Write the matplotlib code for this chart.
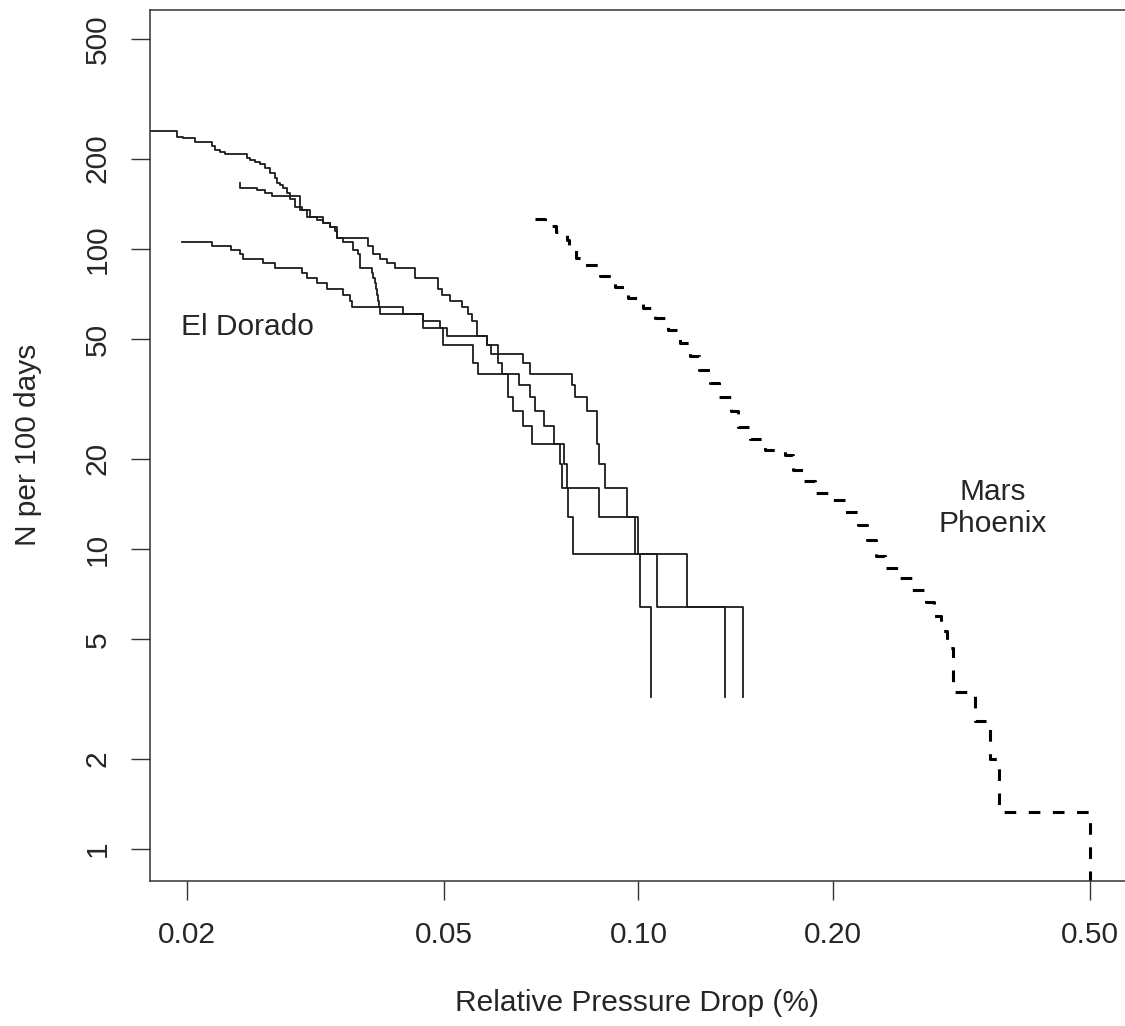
import matplotlib
matplotlib.use("Agg")
import matplotlib.pyplot as plt

plt.rcParams['font.family'] = ['Liberation Sans', 'DejaVu Sans']

# ---------------- data ----------------
# El Dorado, curve A (highest start)
ed_a_x = [0.01691, 0.01928, 0.01974, 0.02058, 0.02184, 0.02210, 0.02250, 0.02290,
          0.02474, 0.02503, 0.02548, 0.02594, 0.02641, 0.02688, 0.02737, 0.02753,
          0.02786, 0.02819, 0.02853, 0.02887, 0.02992, 0.03100, 0.03175, 0.03251,
          0.03329, 0.03410, 0.03816, 0.03885, 0.03979, 0.04075, 0.04197, 0.04508,
          0.04898, 0.04958, 0.05107, 0.05324, 0.05451, 0.05518, 0.05629, 0.05820,
          0.06066, 0.06631, 0.06791, 0.07880, 0.07973, 0.08313, 0.08633, 0.08695,
          0.08873, 0.09586, 0.09990, 0.11875, 0.14526]
ed_a_y = [246.4, 236.8, 233.6, 227.2, 220.8, 214.4, 211.2, 208.0, 201.6, 198.4,
          195.2, 192.0, 185.6, 179.2, 172.8, 166.4, 163.2, 160.0, 153.6, 150.4,
          134.4, 128.0, 124.8, 121.6, 118.4, 108.8, 102.4, 96.0, 92.8, 89.6,
          86.4, 80.0, 73.6, 70.4, 67.2, 64.0, 60.8, 57.6, 51.2, 48.0,
          44.8, 41.6, 38.4, 35.2, 32.0, 28.8, 22.4, 19.2, 16.0, 12.8,
          9.6, 6.4, 3.2]

# El Dorado, curve B (middle start)
ed_b_x = [0.02416, 0.02416, 0.02567, 0.02641, 0.02705, 0.02887, 0.02939, 0.03010,
          0.03064, 0.03251, 0.03329, 0.03389, 0.03410, 0.03491, 0.03618, 0.03683,
          0.03705, 0.03867, 0.03885, 0.03908, 0.03922, 0.03932, 0.03955, 0.03965,
          0.03979, 0.04643, 0.05058, 0.05820, 0.05904, 0.06066, 0.06140, 0.06537,
          0.06791, 0.06913, 0.07147, 0.07398, 0.07667, 0.07758, 0.08695, 0.09874,
          0.10668, 0.13611]
ed_b_y = [166.4, 160.0, 156.8, 153.6, 150.4, 147.2, 137.6, 134.4, 128.0, 121.6,
          118.4, 115.2, 108.8, 105.6, 99.2, 96.0, 86.4, 83.2, 80.0, 76.8,
          73.6, 70.4, 67.2, 64.0, 60.8, 54.4, 51.2, 48.0, 44.8, 41.6,
          38.4, 35.2, 32.0, 28.8, 25.6, 22.4, 19.2, 16.0, 12.8, 9.6,
          6.4, 3.2]

# El Dorado, curve C (lowest start)
ed_c_x = [0.01963, 0.02184, 0.02345, 0.02416, 0.02444, 0.02625, 0.02737, 0.03010,
          0.03064, 0.03175, 0.03290, 0.03491, 0.03575, 0.03597, 0.04324, 0.04643,
          0.04928, 0.04986, 0.05549, 0.05649, 0.06286, 0.06399, 0.06631, 0.06833,
          0.07558, 0.07604, 0.07785, 0.07908, 0.10051, 0.10442]
ed_c_y = [105.6, 102.4, 99.2, 96.0, 92.8, 89.6, 86.4, 83.2, 80.0, 76.8,
          73.6, 70.4, 67.2, 64.0, 60.8, 57.6, 54.4, 48.0, 41.6, 38.4,
          32.0, 28.8, 25.6, 22.4, 19.2, 16.0, 12.8, 9.6, 6.4, 3.2]

# Mars Phoenix
mars_x = [0.06914, 0.07166, 0.07452, 0.07750, 0.07806, 0.08004, 0.08265, 0.08716,
          0.09196, 0.09630, 0.1016, 0.1060, 0.1111, 0.1159, 0.1201, 0.1240,
          0.1290, 0.1332, 0.1390, 0.1426, 0.1488, 0.1570, 0.1685, 0.1734,
          0.1797, 0.1876, 0.2000, 0.2087, 0.2186, 0.2258, 0.2332, 0.2408,
          0.2522, 0.2651, 0.2787, 0.2866, 0.2939, 0.3002, 0.3067, 0.3318,
          0.3500, 0.3614, 0.4999]
mars_y = [125.9, 119.3, 113.9, 107.2, 101.5, 93.3, 88.4, 81.3, 74.7, 68.6,
          63.6, 58.9, 53.7, 48.6, 44.0, 39.5, 35.8, 32.1, 28.8, 25.5,
          23.3, 21.4, 20.6, 18.3, 16.9, 15.4, 14.6, 13.3, 12.0, 10.7,
          9.48, 8.65, 8.0, 7.30, 6.66, 5.98, 5.33, 4.68, 3.33, 2.67,
          2.0, 1.33, 0.667]

x_ticks = [0.02, 0.05, 0.10, 0.20, 0.50]
x_tick_labels = ["0.02", "0.05", "0.10", "0.20", "0.50"]
y_ticks = [1, 2, 5, 10, 20, 50, 100, 200, 500]
y_tick_labels = ["1", "2", "5", "10", "20", "50", "100", "200", "500"]

# ---------------- figure ----------------
W, H = 1125, 1026
fig = plt.figure(figsize=(W / 100, H / 100), dpi=100)
ax = fig.add_axes([150 / W, 145 / H, 976 / W, 871 / H])
ax.set_xscale('log')
ax.set_yscale('log')
ax.set_xlim(0.01754, 0.5682)
ax.set_ylim(0.782, 626)

line_col = '#1c1c1c'
for xs, ys in [(ed_a_x, ed_a_y), (ed_b_x, ed_b_y), (ed_c_x, ed_c_y)]:
    ax.plot(xs, ys, drawstyle='steps-post', color=line_col, lw=1.3)

ax.plot(mars_x, mars_y, drawstyle='steps-post', color='black', lw=2.2,
        linestyle=(0, (3.8, 4.1)), dash_capstyle='butt')

ax.set_xticks(x_ticks)
ax.set_xticklabels(x_tick_labels)
ax.set_yticks(y_ticks)
ax.set_yticklabels(y_tick_labels, rotation=90, va='center')
ax.minorticks_off()
ax.tick_params(axis='both', which='major', length=13.5, width=1.0,
               direction='out', labelsize=21.5, color='#333333',
               labelcolor='#262626')
ax.tick_params(axis='x', pad=15)
ax.tick_params(axis='y', pad=14)
for sp in ax.spines.values():
    sp.set_color('#333333')
    sp.set_linewidth(1.1)

txt_col = '#262626'
ax.text(0.02486, 55.0, 'El Dorado', ha='center', va='center',
        fontsize=21.5, color=txt_col)
ax.text(0.3538, 13.7, 'Mars\nPhoenix', ha='center', va='center',
        fontsize=21.5, color=txt_col, linespacing=1.2)

fig.text(637 / W, 1 - 1003 / H, 'Relative Pressure Drop (%)', ha='center',
         va='center', fontsize=21.5, color=txt_col)
fig.text(28 / W, 1 - 445 / H, 'N per 100 days', ha='center', va='center',
         rotation=90, fontsize=21.5, color=txt_col)

fig.savefig('out.png', dpi=100)
